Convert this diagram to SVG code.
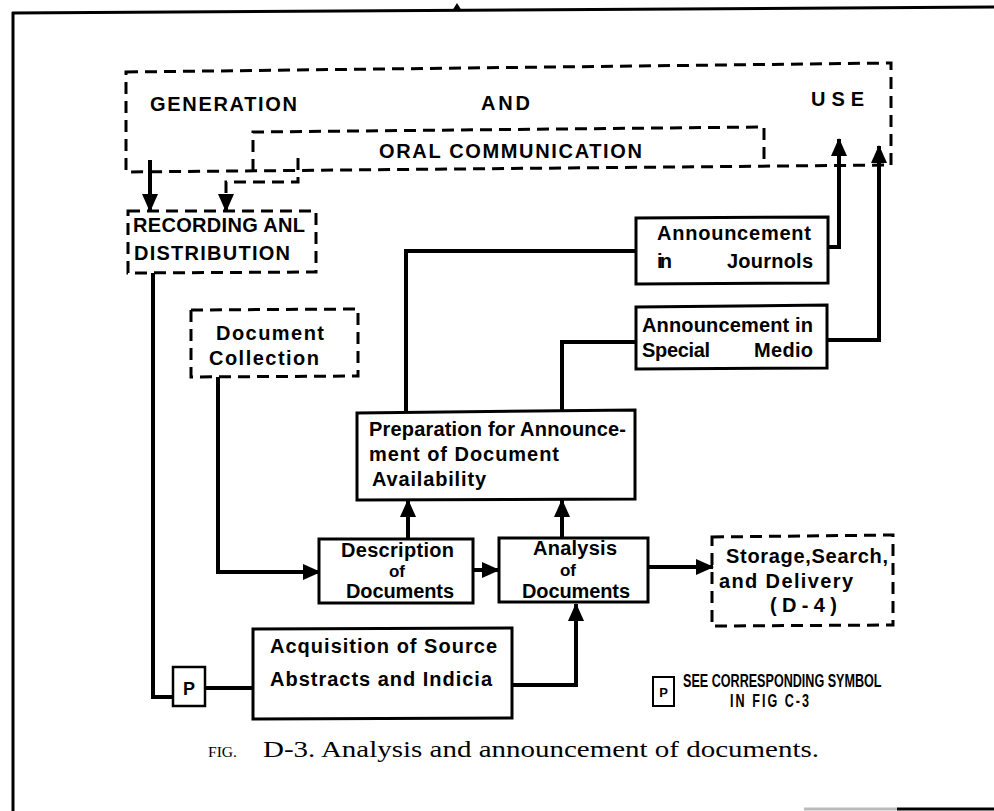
<svg xmlns="http://www.w3.org/2000/svg" width="994" height="811" viewBox="0 0 994 811">
<style>
.frame{fill:none;stroke:#000;stroke-width:3}
.box{fill:#fff;stroke:#000;stroke-width:3}
.dbox{fill:none;stroke:#000;stroke-width:3;stroke-dasharray:12 7}
.conn{fill:none;stroke:#000;stroke-width:4}
.dconn{fill:none;stroke:#000;stroke-width:3;stroke-dasharray:12 7}
.t{font-family:"Liberation Sans",Arial,sans-serif;font-weight:bold;font-size:20px;fill:#000}
.sm{font-size:17px}
.lg{font-size:18px}
.cap{font-family:"Liberation Serif","Times New Roman",serif;fill:#000}
</style>
<defs>
<marker id="ah" markerUnits="userSpaceOnUse" markerWidth="18" markerHeight="16" refX="17" refY="8" orient="auto">
<path d="M0,0 L18,8 L0,16 z" fill="#000"/>
</marker>
</defs>
<rect x="0" y="0" width="994" height="811" fill="#fff"/>
<g id="frame">
<path class="frame" d="M12,13 L994,7"/>
<path class="frame" d="M13,12 V811"/>
<polygon points="457,3 452,11 462,11" fill="#000"/>
<path d="M804,809 H897" stroke="#bbb" stroke-width="3"/>
<path d="M897,809 H994" stroke="#000" stroke-width="3"/>
</g>
<g id="connectors">
<path class="conn" d="M150,160 V211" marker-end="url(#ah)"/>
<path class="dconn" d="M298,158 V182 H226 V195"/>
<path class="conn" d="M226,195 V211" marker-end="url(#ah)"/>
<path class="conn" d="M153,273 V697 H173"/>
<path class="conn" d="M205,688 H253"/>
<path class="conn" d="M512,685 H576 V604" marker-end="url(#ah)"/>
<path class="conn" d="M218,377 V572 H320" marker-end="url(#ah)"/>
<path class="conn" d="M473,570 H499" marker-end="url(#ah)"/>
<path class="conn" d="M648,567 H713" marker-end="url(#ah)"/>
<path class="conn" d="M408,539 V500" marker-end="url(#ah)"/>
<path class="conn" d="M562,538 V500" marker-end="url(#ah)"/>
<path class="conn" d="M406,413 V251 H636"/>
<path class="conn" d="M562,412 V342 H636"/>
<path class="conn" d="M828,247 H839 V139" marker-end="url(#ah)"/>
<path class="conn" d="M827,340 H879 V146" marker-end="url(#ah)"/>
</g>
<g id="generation-and-use">
<path class="dbox" d="M126,72 L891,63 L891,165 L126,172 Z"/>
<text class="t" x="150" y="111" textLength="147" lengthAdjust="spacing">GENERATION</text>
<text class="t" x="481" y="110" textLength="49" lengthAdjust="spacing">AND</text>
<text class="t" x="811" y="106" textLength="53" lengthAdjust="spacing">USE</text>
</g>
<g id="oral-communication">
<path class="dbox" d="M253,171 L253,132 L764,127 L764,167"/>
<text class="t" x="379" y="158" textLength="263" lengthAdjust="spacing">ORAL COMMUNICATION</text>
</g>
<g id="recording-distribution">
<path class="dbox" d="M128,211 L316,211 L316,272 L128,273 Z"/>
<text class="t" x="133" y="232" textLength="172" lengthAdjust="spacing">RECORDING ANL</text>
<text class="t" x="134" y="260" textLength="156" lengthAdjust="spacing">DISTRIBUTION</text>
</g>
<g id="document-collection">
<path class="dbox" d="M191,310 L358,309 L358,376 L191,377 Z"/>
<text class="t" x="216" y="340" textLength="108" lengthAdjust="spacing">Document</text>
<text class="t" x="209" y="365" textLength="110" lengthAdjust="spacing">Collection</text>
</g>
<g id="announcement-journals">
<path class="box" d="M636,218 L828,217 L828,283 L636,284 Z"/>
<text class="t" x="657" y="240" textLength="154" lengthAdjust="spacing">Announcement</text>
<text class="t" x="657" y="268" textLength="15" lengthAdjust="spacing">in</text>
<text class="t" x="727" y="268" textLength="86" lengthAdjust="spacing">Journols</text>
</g>
<g id="announcement-special">
<path class="box" d="M636,307 L827,305 L827,368 L636,369 Z"/>
<text class="t" x="642" y="332" textLength="171" lengthAdjust="spacing">Announcement in</text>
<text class="t" x="642" y="357" textLength="68" lengthAdjust="spacing">Special</text>
<text class="t" x="754" y="357" textLength="59" lengthAdjust="spacing">Medio</text>
</g>
<g id="preparation">
<path class="box" d="M357,413 L635,410 L635,499 L357,500 Z"/>
<text class="t" x="369" y="436" textLength="257" lengthAdjust="spacing">Preparation for Announce-</text>
<text class="t" x="369" y="461" textLength="190" lengthAdjust="spacing">ment of Document</text>
<text class="t" x="372" y="486" textLength="114" lengthAdjust="spacing">Availability</text>
</g>
<g id="description">
<rect class="box" x="319" y="539" width="154" height="64"/>
<text class="t" x="341" y="557" textLength="113" lengthAdjust="spacing">Description</text>
<text class="t sm" x="397" y="577" text-anchor="middle">of</text>
<text class="t" x="346" y="598" textLength="108" lengthAdjust="spacing">Documents</text>
</g>
<g id="analysis">
<rect class="box" x="499" y="538" width="149" height="64"/>
<text class="t" x="533" y="555" textLength="84" lengthAdjust="spacing">Analysis</text>
<text class="t sm" x="568" y="576" text-anchor="middle">of</text>
<text class="t" x="522" y="598" textLength="108" lengthAdjust="spacing">Documents</text>
</g>
<g id="storage">
<path class="dbox" d="M712,537 L893,535 L893,625 L712,626 Z"/>
<text class="t" x="726" y="563" textLength="162" lengthAdjust="spacing">Storage,Search,</text>
<text class="t" x="719" y="588" textLength="134" lengthAdjust="spacing">and Delivery</text>
<text class="t" x="770" y="612" textLength="67" lengthAdjust="spacing">(D-4)</text>
</g>
<g id="acquisition">
<path class="box" d="M253,629 L512,628 L512,718 L253,719 Z"/>
<text class="t" x="270" y="653" textLength="227" lengthAdjust="spacing">Acquisition of Source</text>
<text class="t" x="270" y="686" textLength="222" lengthAdjust="spacing">Abstracts and Indicia</text>
</g>
<g id="p-symbol">
<rect x="173" y="667" width="32" height="39" fill="#fff" stroke="#000" stroke-width="2.5"/>
<text class="t" x="189" y="695" text-anchor="middle" style="font-size:18px">P</text>
</g>
<g id="legend">
<rect x="653" y="677" width="21" height="29" fill="#fff" stroke="#000" stroke-width="2"/>
<text class="t" x="663.5" y="697" text-anchor="middle" style="font-size:13px">P</text>
<text class="t lg" transform="translate(683,687) scale(0.7,1)" x="0" y="0">SEE CORRESPONDING SYMBOL</text>
<text class="t lg" transform="translate(730,707) scale(0.7,1)" x="0" y="0" textLength="113" lengthAdjust="spacing">IN FIG C-3</text>
</g>
<g id="caption">
<text class="cap" x="208" y="757" font-size="15" textLength="29" lengthAdjust="spacingAndGlyphs">FIG.</text>
<text class="cap" x="263" y="757" font-size="23" textLength="556" lengthAdjust="spacingAndGlyphs">D-3. Analysis and announcement of documents.</text>
</g>
</svg>
